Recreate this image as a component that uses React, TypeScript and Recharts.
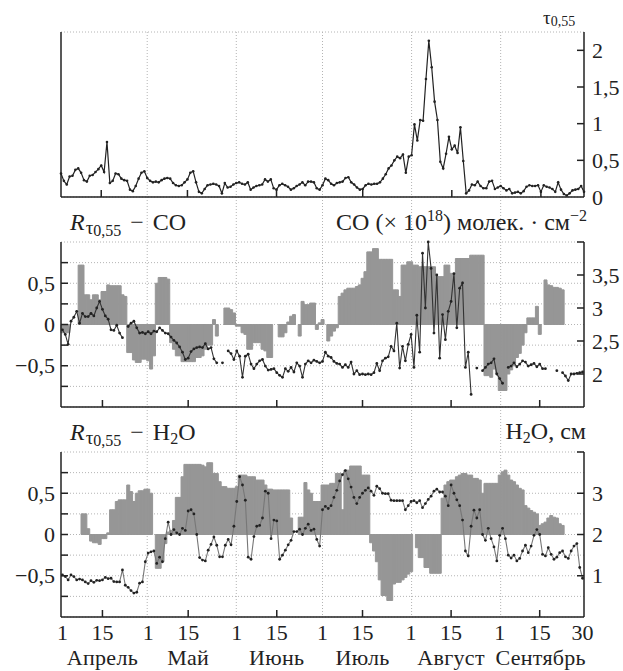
import React from 'react';
import { ComposedChart, Bar, Line, XAxis, YAxis, CartesianGrid } from 'recharts';

// day index 0 = 1 April, 182 = 30 September
const DAYS = Array.from({ length: 183 }, (_, i) => i);

const TICK_DAYS = [0, 14, 30, 44, 61, 75, 91, 105, 122, 136, 153, 167, 182];
const TICK_LABELS = ['1', '15', '1', '15', '1', '15', '1', '15', '1', '15', '1', '15', '30'];
const MID_MONTH = [14, 44, 75, 105, 136, 167];
const MONTHS = ['Апрель', 'Май', 'Июнь', 'Июль', 'Август', 'Сентябрь'];
const MONTH_STARTS = [30, 61, 91, 122, 153];

const TAU = [
  0.32, 0.22, 0.17, 0.28, 0.29, 0.37, 0.39, 0.33, 0.23, 0.21,
  0.29, 0.30, 0.34, 0.38, 0.43, 0.34, 0.75, 0.19, 0.22, 0.32,
  0.31, 0.25, 0.23, 0.22, 0.10, 0.08, 0.15, 0.25, 0.33, 0.35,
  0.26, 0.22, 0.20, 0.21, 0.20, 0.23, 0.25, 0.26, 0.25, 0.19,
  0.16, 0.15, 0.16, 0.20, 0.24, 0.33, 0.35, 0.20, 0.07, 0.05,
  0.11, 0.16, 0.17, 0.18, 0.17, 0.15, 0.05, 0.19, 0.13, 0.14,
  0.17, 0.19, 0.20, 0.18, 0.17, 0.20, 0.10, 0.13, 0.15, 0.16,
  0.17, 0.24, 0.21, 0.24, 0.12, 0.10, 0.16, 0.18, 0.16, 0.14,
  0.10, 0.12, 0.15, 0.17, 0.20, 0.16, 0.21, 0.21, 0.20, 0.12,
  0.10, 0.16, 0.25, 0.23, 0.18, 0.16, 0.19, 0.20, 0.21, 0.26,
  0.27, 0.20, 0.17, 0.13, 0.10, 0.11, 0.16, 0.18, 0.17, 0.18,
  0.18, 0.20, 0.25, 0.31, 0.39, 0.43, 0.50, 0.55, 0.53, 0.58,
  0.33, 0.55, 0.57, 0.99, 0.77, 1.05, 1.04, 1.61, 2.13, 1.77,
  1.30, 1.05, 0.48, 0.39, 0.59, 0.82, 0.65, 0.70, 0.60, 0.95,
  0.49, 0.05, 0.09, 0.17, 0.16, 0.21, 0.15, 0.12, 0.12, 0.21,
  0.22, 0.11, 0.13, 0.15, 0.12, 0.09, 0.11, 0.05, 0.06, 0.07,
  0.05, 0.08, 0.14, 0.16, 0.15, 0.15, 0.16, 0.07, 0.16, 0.14,
  0.13, 0.11, 0.07, 0.20, 0.10, 0.04, 0.02, 0.05, 0.09, 0.10,
  0.11, 0.15, 0.07,
];

const CO = [
  2.67, 2.60, 2.45, 2.80, 2.86, 2.95, 2.77, 2.92, 2.87, 2.87,
  2.92, 2.88, 3.00, 3.10, 2.98, 2.88, 2.83, 2.67, 2.66, 2.74,
  2.62, 2.55, null, 2.72, 2.77, 2.80, 2.70, 2.62, 2.63, 2.61,
  2.64, 2.61, 2.65, 2.64, 2.70, 2.66, 2.62, 2.61, 2.56, 2.51,
  2.47, 2.41, 2.33, 2.22, 2.24, 2.34, 2.38, 2.40, 2.41, 2.40,
  2.46, 2.38, 2.40, 2.23, 2.17, null, 2.17, null, 2.35, 2.31,
  2.22, 2.35, 2.27, 1.95, 2.27, 2.30, 2.15, 2.08, 2.15, 2.20,
  2.22, 2.12, 2.06, 2.07, 2.08, 2.02, 1.98, 1.95, 2.08, 2.04,
  2.10, 2.03, 2.17, 2.12, 1.95, 2.15, 2.20, 2.17, 2.21, 2.19,
  2.17, 2.19, 2.33, 2.27, 2.25, 2.19, 2.16, 2.15, 2.10, 2.14,
  2.10, 2.18, 2.00, 2.05, 1.99, 2.00, 1.99, 2.00, 1.99, 2.02,
  2.16, 2.05, 2.20, 2.24, 2.26, 2.42, 2.35, 2.77, 2.09, 2.42,
  2.20, 2.45, 2.60, 2.10, 2.89, 2.33, 3.83, 3.00, 4.00, 3.60,
  2.62, 3.50, 2.24, 2.90, 2.52, 2.95, 3.10, 3.52, 2.70, 3.30,
  3.38, 2.10, 2.33, 1.69, null, 2.09, null, 2.05, 2.10, 2.15,
  2.17, 2.23, 2.00, 1.93, 1.86, null, 2.10, 2.12, 2.17, 2.11,
  2.15, 2.20, 2.18, 2.12, 2.14, 2.16, 2.11, 2.15, 2.08, 2.08,
  null, null, null, 2.05, null, 2.02, 1.97, 1.90, 2.00, 2.00,
  2.01, 2.02, 2.03,
];

const R_CO = [
  -0.10, -0.10, -0.10, null, null, null, 0.72, 0.72, 0.36, 0.36,
  0.30, 0.36, 0.36, 0.30, 0.40, 0.40, 0.48, 0.47, 0.47, 0.47,
  0.47, 0.36, 0.34, -0.34, -0.34, -0.43, -0.46, -0.46, -0.42, -0.42,
  -0.44, -0.54, -0.38, 0.50, 0.57, 0.57, 0.57, 0.55, -0.22, -0.30,
  -0.38, -0.38, -0.45, -0.45, -0.45, -0.45, -0.45, -0.40, -0.40, -0.38,
  -0.30, -0.25, -0.25, 0.06, -0.14, null, null, 0.20, 0.20, 0.18,
  0.14, -0.02, -0.02, -0.10, -0.12, -0.30, -0.30, -0.22, -0.22, -0.22,
  -0.30, -0.32, -0.40, -0.40, null, null, -0.15, -0.15, -0.10, 0.03,
  0.10, 0.12, null, -0.14, 0.28, 0.24, 0.24, 0.26, 0.26, -0.06,
  0.02, 0.06, null, -0.20, -0.14, -0.08, -0.04, 0.34, 0.38, 0.42,
  0.44, 0.44, 0.44, 0.46, 0.48, 0.56, 0.64, 0.88, 0.88, 0.92,
  0.92, 0.79, 0.79, 0.79, 0.79, 0.79, 0.42, 0.42, 0.34, 0.72,
  0.72, 0.76, 0.76, 0.72, 0.72, 0.70, 0.70, 0.70, 0.70, 0.70,
  0.70, 0.58, 0.58, 0.58, 0.72, 0.72, 0.62, 0.62, 0.80, 0.80,
  0.80, 0.80, 0.80, 0.84, 0.84, 0.84, 0.84, 0.84, -0.62, -0.62,
  -0.64, -0.54, -0.60, -0.80, -0.80, -0.80, -0.60, -0.55, -0.50, -0.40,
  -0.35, -0.25, -0.10, 0.08, 0.08, 0.08, 0.22, -0.12, null, 0.54,
  0.48, 0.47, 0.45, 0.45, 0.44, 0.42, null, null, null, null,
  null, null, null,
];

const H2O = [
  1.02, 0.98, 0.90, 1.02, 0.98, 0.90, 0.92, 0.90, 0.85, 0.81,
  0.88, 0.84, 0.89, 0.88, 0.90, 0.96, 0.93, 0.94, 0.86, 0.85,
  0.85, 1.14, 0.77, 0.72, 0.64, 0.58, 0.60, 0.82, 0.85, 1.34,
  1.55, 1.58, 1.60, 1.30, 1.45, 1.34, 1.90, 2.30, 2.00, 2.12,
  2.04, 2.00, 2.15, 2.10, 2.57, 2.60, 2.50, 2.00, 1.44, 1.38,
  1.36, 1.62, 1.76, 1.94, 1.74, 1.46, 1.46, 1.74, 1.88, 1.75,
  2.20, 2.80, 3.40, 3.20, 2.83, 1.45, 1.40, 1.95, 2.20, 2.22,
  2.40, 3.05, 3.00, 1.90, 2.35, 2.33, 1.40, 1.50, 1.62, 1.75,
  1.86, 2.07, 2.07, 2.13, 2.00, 2.15, 2.25, 2.10, 2.13, 1.88,
  1.72, 2.60, 2.68, 2.63, 2.70, 2.90, 3.07, 3.30, 3.45, 3.55,
  3.35, 3.15, 2.90, 2.75, 2.90, 3.00, 3.07, 3.13, 3.05, 2.95,
  3.17, 3.11, 3.00, 2.99, 2.99, 2.83, 2.82, 2.82, 2.82, 2.82,
  2.60, 2.70, 2.80, 2.82, 2.77, 2.82, 2.65, 2.75, 2.85, 2.93,
  3.05, 3.10, 3.03, 3.03, 2.93, 2.70, 3.20, 3.00, 2.84, 2.70,
  2.35, 1.60, 1.48, 2.20, 2.59, 2.40, 2.60, 2.00, 1.86, 2.15,
  1.90, 1.70, 1.36, 1.98, 2.15, 1.90, 1.50, 1.43, 1.50, 1.36,
  1.42, 1.60, 1.74, 1.56, 1.72, 1.98, 2.12, 2.00, 1.52, 1.48,
  1.68, 1.52, 1.40, 1.45, 1.56, 1.60, 1.46, 1.42, 1.60, 1.72,
  1.78, 1.20, 0.94,
];

const R_H2O = [
  null, null, null, null, null, null, null, 0.25, 0.25, 0.07,
  -0.08, -0.10, -0.10, -0.12, -0.05, -0.05, 0.02, 0.30, 0.30, 0.40,
  0.42, 0.42, 0.42, 0.60, 0.52, 0.40, 0.50, 0.53, 0.53, 0.55,
  0.55, 0.50, null, -0.41, -0.41, -0.33, -0.11, 0.03, 0.05, 0.17,
  0.45, 0.45, 0.70, 0.85, 0.85, 0.85, 0.85, 0.85, 0.85, 0.84,
  0.82, 0.87, 0.87, 0.74, 0.74, 0.64, 0.58, 0.58, 0.56, 0.56,
  0.56, 0.58, 0.72, 0.72, 0.72, 0.70, 0.70, 0.70, 0.66, 0.66,
  0.66, 0.60, 0.55, 0.55, 0.54, 0.54, 0.54, 0.54, 0.54, 0.54,
  0.20, null, null, 0.21, 0.21, 0.63, 0.54, 0.50, 0.40, 0.40,
  0.40, 0.60, 0.60, 0.60, 0.62, 0.62, 0.74, 0.74, 0.30, 0.78,
  0.78, 0.83, 0.83, 0.83, 0.83, 0.72, 0.72, 0.72, -0.10, -0.20,
  -0.33, -0.55, -0.74, -0.74, -0.80, -0.80, -0.60, -0.58, -0.58, -0.55,
  -0.52, -0.48, -0.45, null, -0.16, -0.28, -0.28, -0.40, -0.40, -0.47,
  -0.47, -0.47, -0.47, 0.44, 0.60, 0.64, 0.66, 0.66, 0.70, 0.72,
  0.74, 0.74, 0.72, 0.72, 0.68, 0.68, 0.66, 0.50, 0.62, 0.62,
  0.62, 0.62, 0.62, 0.72, 0.76, 0.78, 0.72, 0.66, 0.64, 0.60,
  0.56, 0.54, 0.35, 0.32, 0.29, 0.27, 0.25, 0.11, 0.13, 0.15,
  0.20, 0.23, 0.21, 0.20, 0.13, 0.11, null, null, null, null,
  null, null, null,
];

const R_TICKS = [-1, -0.75, -0.5, -0.25, 0, 0.25, 0.5, 0.75, 1];
const TAU_GRID = [0, 0.25, 0.5, 0.75, 1, 1.25, 1.5, 1.75, 2, 2.25];

const FONT = '"Liberation Serif", "Times New Roman", serif';
const INK = '#222';
const BAR = '#969696';
const GRID = '#b4b4b4';
const MONTH_NUDGE = [0, 0, 0, 0, 0, 1];

const data = DAYS.map((d) => ({
  day: d,
  tau: TAU[d],
  co: CO[d],
  rCo: R_CO[d],
  h2o: H2O[d],
  rH2o: R_H2O[d],
}));

const fmt = (v: number) => String(v).replace('.', ',').replace('-', '−');
const serif = { fontFamily: FONT };

function XTick(props: any) {
  const { x, y, payload, withLabels } = props;
  const v = payload.value;
  const i = TICK_DAYS.indexOf(v);
  const m = MID_MONTH.indexOf(v);
  return (
    <g>
      {m >= 0 && <line x1={x} x2={x} y1={y} y2={y - 7} stroke={INK} strokeWidth={1.5} />}
      {withLabels && (
        <text x={x} y={y + 23} textAnchor="middle" style={serif} fontSize={22} fill={INK}>
          {TICK_LABELS[i]}
        </text>
      )}
      {withLabels && m >= 0 && (
        <text
          x={x + MONTH_NUDGE[m]}
          y={y + 48}
          textAnchor="middle"
          style={serif}
          fontSize={22}
          letterSpacing={0.3}
          fill={INK}
        >
          {MONTHS[m]}
        </text>
      )}
    </g>
  );
}

function YTick(props: any) {
  const { x, y, payload, side, labels, marks } = props;
  const v = payload.value;
  const dir = side === 'left' ? 1 : -1;
  return (
    <g>
      {marks.includes(v) && <line x1={x} x2={x + dir * 7} y1={y} y2={y} stroke={INK} strokeWidth={1.5} />}
      {labels.includes(v) && (
        <text
          x={side === 'left' ? x - 6 : x + 8}
          y={y}
          dy="0.35em"
          textAnchor={side === 'left' ? 'end' : 'start'}
          style={serif}
          fontSize={22}
          fill={INK}
        >
          {fmt(v)}
        </text>
      )}
    </g>
  );
}

const axisLine = { stroke: INK, strokeWidth: 1.5 };

function xAxis(withLabels: boolean, height: number) {
  return (
    <XAxis
      dataKey="day"
      ticks={TICK_DAYS}
      interval={0}
      height={height}
      tickSize={0}
      tickMargin={0}
      tickLine={false}
      axisLine={axisLine}
      tick={(p: any) => <XTick {...p} withLabels={withLabels} />}
    />
  );
}

function grid() {
  return <CartesianGrid yAxisId="l" vertical={false} stroke={GRID} strokeDasharray="1 2" />;
}

// month-start dotted lines run through all three panels and the gaps between them
function MonthGrid() {
  return (
    <ComposedChart width={623} height={671} data={data} margin={{ top: 32, right: 39, bottom: 54, left: 61 }}>
      <XAxis dataKey="day" hide />
      <YAxis hide domain={[0, 2.25]} />
      <CartesianGrid horizontal={false} stroke={GRID} strokeDasharray="1 2" verticalValues={MONTH_STARTS} />
      <Line dataKey="tau" stroke="none" dot={false} activeDot={false} isAnimationActive={false} />
    </ComposedChart>
  );
}

function TauPanel() {
  return (
    <ComposedChart width={623} height={215} data={data} margin={{ top: 32, right: 0, bottom: 0, left: 0 }}>
      {grid()}
      {xAxis(false, 18)}
      <YAxis
        yAxisId="l"
        width={61}
        domain={[0, 2.25]}
        ticks={TAU_GRID}
        interval={0}
        tickSize={0}
        tickMargin={0}
        tickLine={false}
        axisLine={axisLine}
        tick={(p: any) => <YTick {...p} side="left" labels={[]} marks={[0.5, 1, 1.5, 2]} />}
      />
      <YAxis
        yAxisId="r"
        orientation="right"
        width={39}
        domain={[0, 2.25]}
        ticks={[0, 0.5, 1, 1.5, 2]}
        interval={0}
        tickSize={0}
        tickMargin={0}
        tickLine={false}
        axisLine={axisLine}
        tick={(p: any) => <YTick {...p} side="right" labels={[0, 0.5, 1, 1.5, 2]} marks={[0.5, 1, 1.5, 2]} />}
      />
      <Line
        yAxisId="r"
        dataKey="tau"
        stroke={INK}
        strokeWidth={1.2}
        dot={{ r: 1.3, fill: INK, stroke: 'none' }}
        activeDot={false}
        isAnimationActive={false}
      />
    </ComposedChart>
  );
}

function CorrPanel(props: {
  barKey: string;
  lineKey: string;
  domain: number[];
  ticks: number[];
  labels: number[];
  lineColor: string;
  height: number;
  xHeight: number;
  withLabels: boolean;
}) {
  const { barKey, lineKey, domain, ticks, labels, lineColor, height, xHeight, withLabels } = props;
  return (
    <ComposedChart
      width={623}
      height={height}
      data={data}
      barCategoryGap={0}
      barGap={0}
      margin={{ top: 37, right: 0, bottom: 0, left: 0 }}
    >
      {grid()}
      {xAxis(withLabels, xHeight)}
      <YAxis
        yAxisId="l"
        width={61}
        domain={[-1, 1]}
        ticks={R_TICKS}
        interval={0}
        tickSize={0}
        tickMargin={0}
        tickLine={false}
        axisLine={axisLine}
        tick={(p: any) => (
          <YTick {...p} side="left" labels={[-0.5, 0, 0.5]} marks={[-0.75, -0.5, -0.25, 0, 0.25, 0.5, 0.75]} />
        )}
      />
      <YAxis
        yAxisId="r"
        orientation="right"
        width={39}
        domain={domain}
        ticks={ticks}
        interval={0}
        tickSize={0}
        tickMargin={0}
        tickLine={false}
        axisLine={axisLine}
        tick={(p: any) => <YTick {...p} side="right" labels={labels} marks={ticks} />}
      />
      <Bar yAxisId="l" dataKey={barKey} fill={BAR} stroke={BAR} strokeWidth={1} isAnimationActive={false} />
      <Line
        yAxisId="r"
        dataKey={lineKey}
        stroke={lineColor}
        strokeWidth={1.1}
        dot={{ r: 1.4, fill: INK, stroke: 'none' }}
        activeDot={false}
        connectNulls={false}
        isAnimationActive={false}
      />
    </ComposedChart>
  );
}

const txt = { style: serif, fill: INK };

export default function App() {
  return (
    <div style={{ position: 'absolute', left: 0, top: 0, width: 623, height: 671, background: '#fff' }}>
      <div style={{ position: 'absolute', left: 0, top: 0 }}>
        <MonthGrid />
      </div>
      <div style={{ position: 'absolute', left: 0, top: 0 }}>
        <TauPanel />
      </div>
      <div style={{ position: 'absolute', left: 0, top: 205 }}>
        <CorrPanel
          barKey="rCo"
          lineKey="co"
          domain={[1.5, 4]}
          ticks={[2, 2.5, 3, 3.5, 4]}
          labels={[2, 2.5, 3, 3.5]}
          lineColor="#333"
          height={210}
          xHeight={8}
          withLabels={false}
        />
      </div>
      <div style={{ position: 'absolute', left: 0, top: 415 }}>
        <CorrPanel
          barKey="rH2o"
          lineKey="h2o"
          domain={[0, 4]}
          ticks={[1, 2, 3, 4]}
          labels={[1, 2, 3]}
          lineColor="#777"
          height={256}
          xHeight={54}
          withLabels={true}
        />
      </div>
      <svg width={623} height={671} style={{ position: 'absolute', left: 0, top: 0, pointerEvents: 'none' }}>
        <text x={543} y={24} {...txt} fontSize={19}>
          τ<tspan fontSize={14} dy={2}>0,55</tspan>
        </text>
        <text x={70} y={230} {...txt} fontSize={24}>
          <tspan fontStyle="italic">R</tspan>
          <tspan fontSize={19} dy={4} dx={1}>τ</tspan>
          <tspan fontSize={16} dy={2}>0,55</tspan>
          <tspan dy={-6} dx={9}>−</tspan>
          <tspan dx={9}>CO</tspan>
        </text>
        <text x={587} y={230} textAnchor="end" {...txt} fontSize={24}>
          CO (× 10<tspan fontSize={16} dy={-9}>18</tspan>
          <tspan dy={9}>) молек. · см</tspan>
          <tspan fontSize={16} dy={-9}>−2</tspan>
        </text>
        <text x={70} y={440} {...txt} fontSize={24}>
          <tspan fontStyle="italic">R</tspan>
          <tspan fontSize={19} dy={4} dx={1}>τ</tspan>
          <tspan fontSize={16} dy={2}>0,55</tspan>
          <tspan dy={-6} dx={9}>−</tspan>
          <tspan dx={9}>H</tspan>
          <tspan fontSize={16} dy={4}>2</tspan>
          <tspan dy={-4}>O</tspan>
        </text>
        <text x={586} y={439} textAnchor="end" {...txt} fontSize={24}>
          H<tspan fontSize={16} dy={4}>2</tspan>
          <tspan dy={-4}>O, см</tspan>
        </text>
      </svg>
    </div>
  );
}
